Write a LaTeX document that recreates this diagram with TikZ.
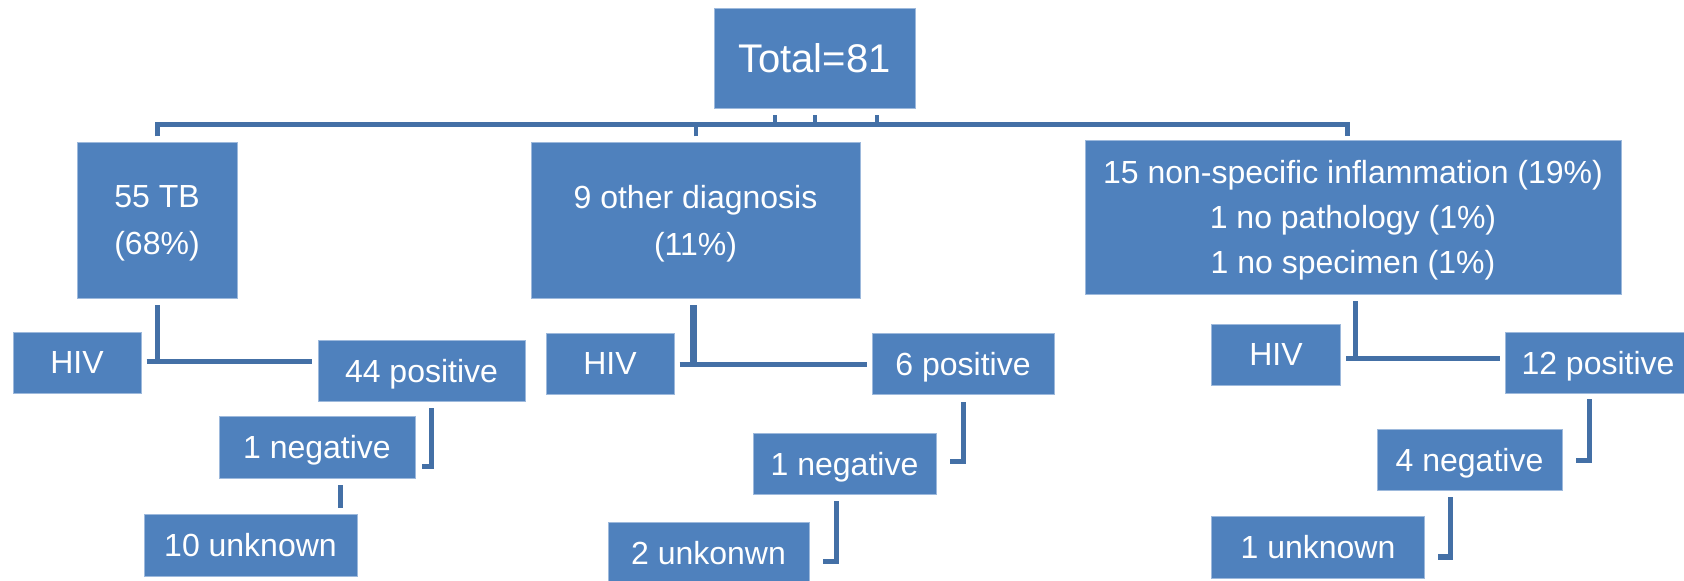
\documentclass[tikz,border=0pt]{standalone}
\usepackage{fontspec}
\setmainfont{Liberation Sans}
\usetikzlibrary{calc}

\definecolor{boxblue}{HTML}{4F81BD}
\definecolor{boxedge}{HTML}{9DB9DC}
\definecolor{linkblue}{HTML}{4470A6}

\tikzset{
  box/.style={fill=boxblue, draw=boxedge, line width=0.5pt, text=white,
    inner sep=0pt, align=center, text depth=1pt, font=\fontsize{16}{23.5}\selectfont},
  link/.style={draw=linkblue, line width=2.5pt},
}

\begin{document}
\begin{tikzpicture}[x=0.5pt,y=-0.5pt]
\useasboundingbox (0,0) rectangle (1684,581);

% top level
\node[box, minimum width=100.5pt, minimum height=50pt,
  font=\fontsize{20}{24}\selectfont] (total) at (814.5,59) {Total=81};
\node[box, minimum width=80pt, minimum height=78pt] (tb) at (157,221) {55 TB\\(68\%)};
\node[box, minimum width=164.5pt, minimum height=78pt] (other) at (695.5,221) {9 other diagnosis\\(11\%)};
\node[box, minimum width=268pt, minimum height=77pt, font=\fontsize{16}{22.5}\selectfont] (nonspec) at (1353,218)
  {15 non-specific inflammation (19\%)\\1 no pathology (1\%)\\1 no specimen (1\%)};

% TB branch
\node[box, minimum width=64pt, minimum height=30.5pt] (hiv1) at (77,363.5) {HIV};
\node[box, minimum width=103.5pt, minimum height=30.5pt] (pos1) at (421.5,371.5) {44 positive};
\node[box, minimum width=98pt, minimum height=31pt] (neg1) at (317,448) {1 negative};
\node[box, minimum width=106.5pt, minimum height=30.5pt] (unk1) at (250.5,545.5) {10 unknown};

% other diagnosis branch
\node[box, minimum width=64pt, minimum height=30.5pt] (hiv2) at (610,364.5) {HIV};
\node[box, minimum width=91pt, minimum height=30.5pt] (pos2) at (963,364.5) {6 positive};
\node[box, minimum width=91.5pt, minimum height=30.5pt] (neg2) at (844.5,464.5) {1 negative};
\node[box, minimum width=100.5pt, minimum height=30.5pt] (unk2) at (708.5,553.5) {2 unkonwn};

% non-specific branch
\node[box, minimum width=64.5pt, minimum height=30.5pt] (hiv3) at (1276,355.5) {HIV};
\node[box, minimum width=93pt, minimum height=30.5pt] (pos3) at (1598,363.5) {12 positive};
\node[box, minimum width=92.5pt, minimum height=30.5pt] (neg3) at (1469.5,460.5) {4 negative};
\node[box, minimum width=106.5pt, minimum height=30.5pt] (unk3) at (1318,547.5) {1 unknown};

% tree under total
\foreach \dx in {-39.5,0.5,62.5}
  \draw[link, line width=2pt] ($(total.south)+(\dx,6)$) -- ++(0,11);
\draw[link] ($(tb.north)+(0,-6)$) |- ($(nonspec.north)+(-6,-16)$) -- ($(nonspec.north)+(-6,-4)$);
\draw[link, line width=2pt] ($(other.north)+(0.5,-6)$) -- ++(0,-11);

% HIV splits
\draw[link] ($(tb.south)+(0,6)$) -- ($(tb.south)+(0,63)$);
\draw[link] ($(hiv1.east)+(5,-1.5)$) -- ($(hiv1.east -| pos1.west)+(-6,-1.5)$);
\draw[link, line width=3.5pt] ($(other.south)+(-2.5,6)$) -- ($(other.south)+(-2.5,64)$);
\draw[link] ($(hiv2.east)+(5,0)$) -- ($(hiv2.east -| pos2.west)+(-5,0)$);
\draw[link] ($(nonspec.south)+(2,6)$) -- ($(nonspec.south)+(2,64)$);
\draw[link] ($(hiv3.east)+(5,3.5)$) -- ($(hiv3.east -| pos3.west)+(-5,3.5)$);

% positive to negative
\draw[link] ($(pos1.south)+(10,6)$) |- ($(neg1.east)+(6,19)$);
\draw[link] ($(pos2.south)+(0,7)$) |- ($(neg2.east)+(13,-3)$);
\draw[link] ($(pos3.south)+(-9,5)$) |- ($(neg3.east)+(13,0)$);

% negative to unknown
\draw[link] ($(neg1.south)+(23,6)$) -- ($(unk1.north)+(89.5,-6)$);
\draw[link] ($(neg2.south)+(-8.5,6)$) |- ($(unk2.east)+(13,7.5)$);
\draw[link] ($(neg3.south)+(-19.5,6)$) |- ($(unk3.east)+(13,9.5)$);
\end{tikzpicture}
\end{document}
